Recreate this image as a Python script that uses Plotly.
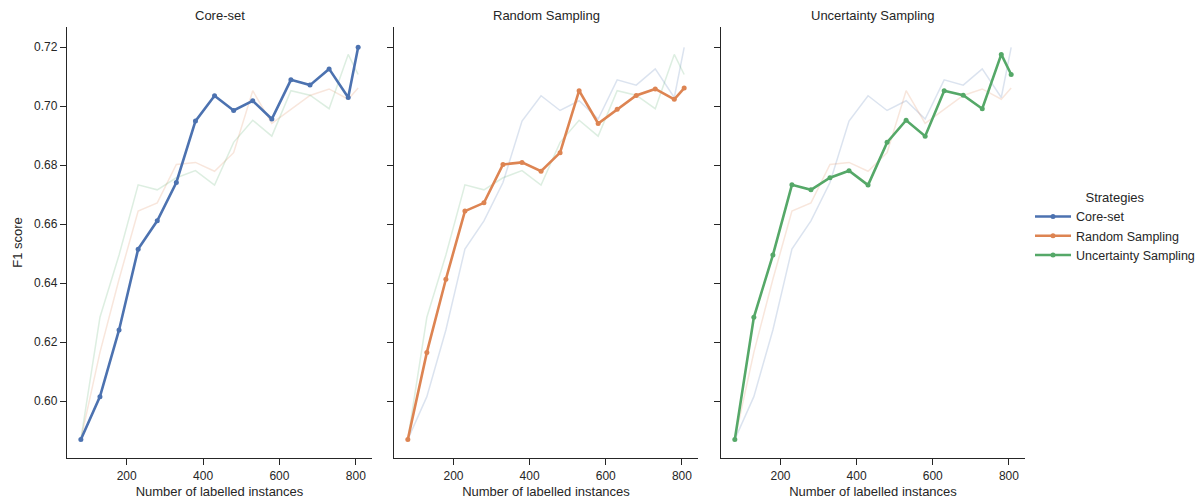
import plotly.graph_objects as go

x_values = [80, 130, 180, 230, 280, 330, 380, 430, 480, 530, 580, 630, 680, 730, 780, 806]
strategies = ["Core-set", "Random Sampling", "Uncertainty Sampling"]
core_set = [0.5870, 0.6015, 0.6241, 0.6515, 0.6611, 0.6741, 0.6949, 0.7035, 0.6985, 0.7018,
            0.6956, 0.7089, 0.7071, 0.7126, 0.7029, 0.7199]
random_sampling = [0.5870, 0.6165, 0.6413, 0.6644, 0.6672, 0.6802, 0.6809, 0.6779, 0.6842, 0.7052,
                   0.6941, 0.6989, 0.7036, 0.7058, 0.7023, 0.7061]
uncertainty_sampling = [0.5870, 0.6284, 0.6495, 0.6733, 0.6716, 0.6757, 0.6781, 0.6732, 0.6877, 0.6952,
                        0.6898, 0.7052, 0.7037, 0.6991, 0.7175, 0.7107]
y_ticks = [0.60, 0.62, 0.64, 0.66, 0.68, 0.70, 0.72]
x_ticks = [200, 400, 600, 800]

series = [core_set, random_sampling, uncertainty_sampling]
colors = ["#4c72b0", "#dd8452", "#55a868"]
faded = ["rgba(76,114,176,0.2)", "rgba(221,132,82,0.2)", "rgba(85,168,104,0.2)"]

FONT = "Liberation Sans, Arial, sans-serif"
TXT = "#262626"

# the page body has an 8px margin; figure is sized/placed to compensate
OFF = 8
W, H = 1204 - OFF, 501 - OFF


def px_x(x):
    return (x - OFF) / W


def px_y(y):
    return 1 - (y - OFF) / H


fig = go.Figure()
x_domains = [[px_x(67), px_x(372)], [px_x(394), px_x(698)], [px_x(721), px_x(1025)]]
y_domain = [px_y(458), px_y(27)]

for p in range(3):
    ax = "" if p == 0 else str(p + 1)
    for s in range(3):
        if s == p:
            continue
        fig.add_trace(go.Scatter(x=x_values, y=series[s], mode="lines",
                                 line=dict(color=faded[s], width=1.5),
                                 xaxis="x" + ax, yaxis="y" + ax, showlegend=False,
                                 hoverinfo="skip"))
    fig.add_trace(go.Scatter(x=x_values, y=series[p], mode="lines+markers",
                             name=strategies[p],
                             line=dict(color=colors[p], width=2.6),
                             marker=dict(color=colors[p], size=5),
                             xaxis="x" + ax, yaxis="y" + ax, showlegend=True))

axis_common = dict(showgrid=False, zeroline=False, showline=True, linecolor=TXT, linewidth=1.25,
                   ticks="outside", ticklen=6, tickwidth=1.25, tickcolor=TXT, automargin=False,
                   tickfont=dict(family=FONT, size=12, color=TXT))

layout = dict(
    width=W, height=H,
    margin=dict(l=0, r=0, t=0, b=0, autoexpand=False),
    plot_bgcolor="white", paper_bgcolor="white",
    font=dict(family=FONT, color=TXT, size=12),
    legend=dict(x=px_x(1030), y=px_y(185), xanchor="left", yanchor="top",
                title=dict(text="Strategies", side="top center", font=dict(size=13, family=FONT, color=TXT)),
                font=dict(size=12.5, family=FONT, color=TXT), bgcolor="rgba(0,0,0,0)",
                tracegroupgap=0, itemwidth=36),
)
for p in range(3):
    ax = "" if p == 0 else str(p + 1)
    layout["xaxis" + ax] = dict(axis_common, domain=x_domains[p], range=[43.7, 842.3],
                                tickvals=x_ticks, anchor="y" + ax,
                                title=dict(text="Number of labelled instances",
                                           font=dict(family=FONT, size=13, color=TXT), standoff=5))
    layout["yaxis" + ax] = dict(axis_common, domain=y_domain, range=[0.5807, 0.7268],
                                tickvals=y_ticks, tickformat=".2f", anchor="x" + ax,
                                showticklabels=(p == 0))
layout["yaxis"]["title"] = dict(text="F1 score", font=dict(family=FONT, size=13, color=TXT), standoff=8)

fig.update_layout(**layout)

for p in range(3):
    fig.add_annotation(text=strategies[p], x=(x_domains[p][0] + x_domains[p][1]) / 2,
                       y=px_y(15), xref="paper", yref="paper", showarrow=False,
                       xanchor="center", yanchor="middle",
                       font=dict(family=FONT, size=13, color=TXT))

fig.write_html("out.html")
